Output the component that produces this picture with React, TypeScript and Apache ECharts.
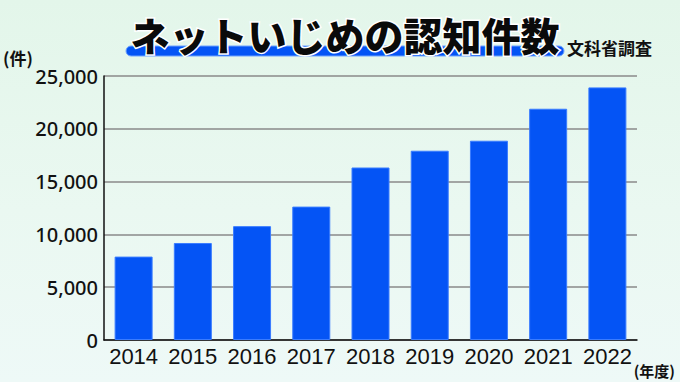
import React, { useEffect, useRef } from "react";
import * as echarts from "echarts";

const years = ["2014", "2015", "2016", "2017", "2018", "2019", "2020", "2021", "2022"];
const cases = [7898, 9187, 10783, 12632, 16334, 17924, 18870, 21900, 23920];
const yTicks = [0, 5000, 10000, 15000, 20000, 25000];
const titleText = "ネットいじめの認知件数";
const sourceText = "文科省調査";
const yUnit = "(件)";
const xUnit = "(年度)";

export default function App() {
  const ref = useRef<HTMLDivElement>(null);
  useEffect(() => {
    if (!ref.current) return;
    const chart = echarts.init(ref.current, undefined, { renderer: "svg" });
    const jp = "'Noto Sans CJK JP', 'Noto Sans', sans-serif";
    chart.setOption({
      animation: false,
      backgroundColor: "transparent",
      grid: { left: 104, right: 43, top: 76, bottom: 42, containLabel: false },
      xAxis: {
        type: "category",
        data: years,
        axisLine: { show: true, lineStyle: { color: "#111", width: 1.5 } },
        axisTick: { show: false },
        axisLabel: {
          interval: 0,
          color: "#111",
          fontSize: 22,
          fontFamily: "'Liberation Sans', sans-serif",
          margin: 5,
        },
      },
      yAxis: {
        type: "value",
        min: yTicks[0],
        max: yTicks[yTicks.length - 1],
        interval: 5000,
        axisLine: { show: true, lineStyle: { color: "#111", width: 1.5 } },
        axisTick: { show: false },
        splitLine: { show: true, lineStyle: { color: "#8a8a8a", width: 1.5 } },
        axisLabel: {
          color: "#111",
          fontSize: 20,
          fontWeight: 500,
          fontFamily: "'Noto Sans', 'Open Sans', sans-serif",
          margin: 6,
          formatter: (v: number) => v.toLocaleString("en-US"),
        },
      },
      series: [
        {
          type: "bar",
          data: cases,
          barWidth: 38,
          itemStyle: { color: "#0454f5", borderColor: "#3a7cff", borderWidth: 1 },
        },
      ],
      graphic: [
        {
          type: "rect",
          shape: { x: 126, y: 46, width: 438, height: 10, r: 5 },
          style: { fill: "#0454f5", stroke: "#6fa2ff", lineWidth: 1 },
          z: 10,
        },
        {
          type: "text",
          x: 345,
          y: 34,
          style: {
            text: titleText,
            fontSize: 39,
            fontWeight: 900,
            fontFamily: jp,
            fill: "#0a0a0a",
            stroke: "#ffffff",
            lineWidth: 3,
            align: "center",
            verticalAlign: "middle",
          },
          z: 11,
        },
        {
          type: "text",
          x: 567,
          y: 47,
          style: {
            text: sourceText,
            fontSize: 17,
            fontWeight: "bold",
            fontFamily: jp,
            fill: "#111",
            align: "left",
            verticalAlign: "middle",
          },
          z: 11,
        },
        {
          type: "text",
          x: 3,
          y: 57,
          style: {
            text: yUnit,
            fontSize: 17,
            fontWeight: "bold",
            fontFamily: jp,
            fill: "#111",
            align: "left",
            verticalAlign: "middle",
          },
        },
        {
          type: "text",
          x: 675,
          y: 370,
          style: {
            text: xUnit,
            fontSize: 15,
            fontWeight: "bold",
            fontFamily: jp,
            fill: "#111",
            align: "right",
            verticalAlign: "middle",
          },
        },
      ],
    });
    return () => chart.dispose();
  }, []);
  return (
    <div
      ref={ref}
      style={{
        position: "fixed",
        left: 0,
        top: 0,
        width: 680,
        height: 382,
        background: "linear-gradient(180deg, #e3f6ea 0%, #eaf8f1 55%, #eef9f7 100%)",
      }}
    />
  );
}
